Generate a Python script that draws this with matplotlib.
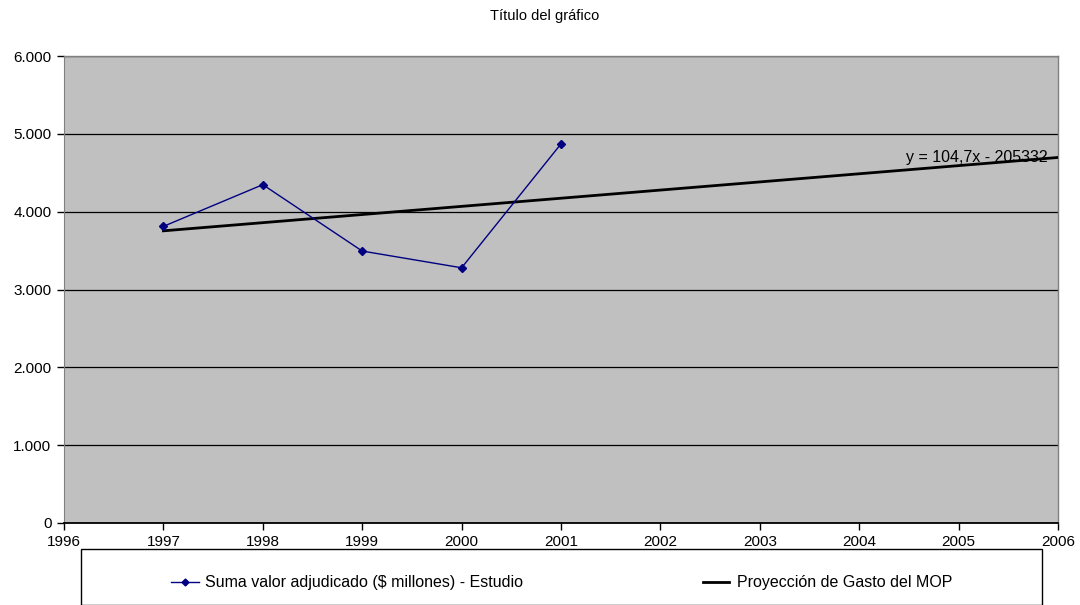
import matplotlib
matplotlib.use("Agg")
import matplotlib.pyplot as plt
from matplotlib.lines import Line2D
from matplotlib.patches import Rectangle
from matplotlib.ticker import FuncFormatter, MultipleLocator

plt.rcParams['font.family'] = ['Liberation Sans', 'DejaVu Sans']

# Data
years = [1997, 1998, 1999, 2000, 2001]
valores = [3811, 4347, 3494, 3279, 4871]
trend_slope = 104.7
trend_intercept = -205332
trend_years = [1997, 2006]
series_label = "Suma valor adjudicado ($ millones) - Estudio"
trend_label = "Proyección de Gasto del MOP"
title = "Título del gráfico"
eq_text = "y = 104,7x - 205332"

W, H = 1080, 605
fig = plt.figure(figsize=(W / 100, H / 100), dpi=100)
fig.patch.set_facecolor('white')

left, right, top, bottom = 64, 1058, 56, 523
ax = fig.add_axes([left / W, 1 - bottom / H, (right - left) / W, (bottom - top) / H])
ax.set_facecolor('#C0C0C0')

ax.set_xlim(1996, 2006)
ax.set_ylim(0, 6000)
ax.xaxis.set_major_locator(MultipleLocator(1))
ax.yaxis.set_major_locator(MultipleLocator(1000))
ax.yaxis.set_major_formatter(FuncFormatter(lambda v, p: f"{int(v):,}".replace(",", ".")))
ax.xaxis.set_major_formatter(FuncFormatter(lambda v, p: f"{int(round(v))}"))

ax.grid(axis='y', color='black', linewidth=0.9)
ax.set_axisbelow(True)

for s in ['top', 'right']:
    ax.spines[s].set_color('#808080')
    ax.spines[s].set_linewidth(1.0)
ax.spines['left'].set_color('#808080')
ax.spines['bottom'].set_color('black')
ax.spines['bottom'].set_linewidth(1.3)

ax.tick_params(axis='both', direction='out', length=5, width=1, color='black',
               labelsize=11)
ax.tick_params(axis='x', pad=4)
ax.tick_params(axis='y', pad=4)

ty = [trend_slope * x + trend_intercept for x in trend_years]
ax.plot(trend_years, ty, color='black', linewidth=2.0, zorder=3)
ax.plot(years, valores, color='#000080', linewidth=1.0, marker='D', markersize=4,
        zorder=4)

ax.text(2005.9, 4700, eq_text, ha='right', va='center', fontsize=11.5, color='black',
        zorder=5)

fig.text(545 / W, 1 - 16 / H, title, ha='center', va='center', fontsize=10.5)

# Legend box
rect = Rectangle((81 / W, 0), (1042 - 81) / W, (H - 555) / H + 0.01,
                 transform=fig.transFigure, facecolor='white', edgecolor='black',
                 linewidth=1.0, clip_on=False)
fig.patches.append(rect)

ly = 1 - 582 / H
fig.add_artist(Line2D([171 / W, 199 / W], [ly, ly], color='#000080', linewidth=1.0,
                      transform=fig.transFigure))
fig.add_artist(Line2D([185 / W], [ly], color='#000080', marker='D', markersize=3.5,
                      linestyle='none', transform=fig.transFigure))
fig.text(205 / W, ly, series_label, ha='left', va='center', fontsize=11.5)
fig.add_artist(Line2D([703 / W, 729 / W], [ly, ly], color='black', linewidth=2.0,
                      transform=fig.transFigure))
fig.text(737 / W, ly, trend_label, ha='left', va='center', fontsize=11.5)

fig.savefig('out.png', dpi=100)
